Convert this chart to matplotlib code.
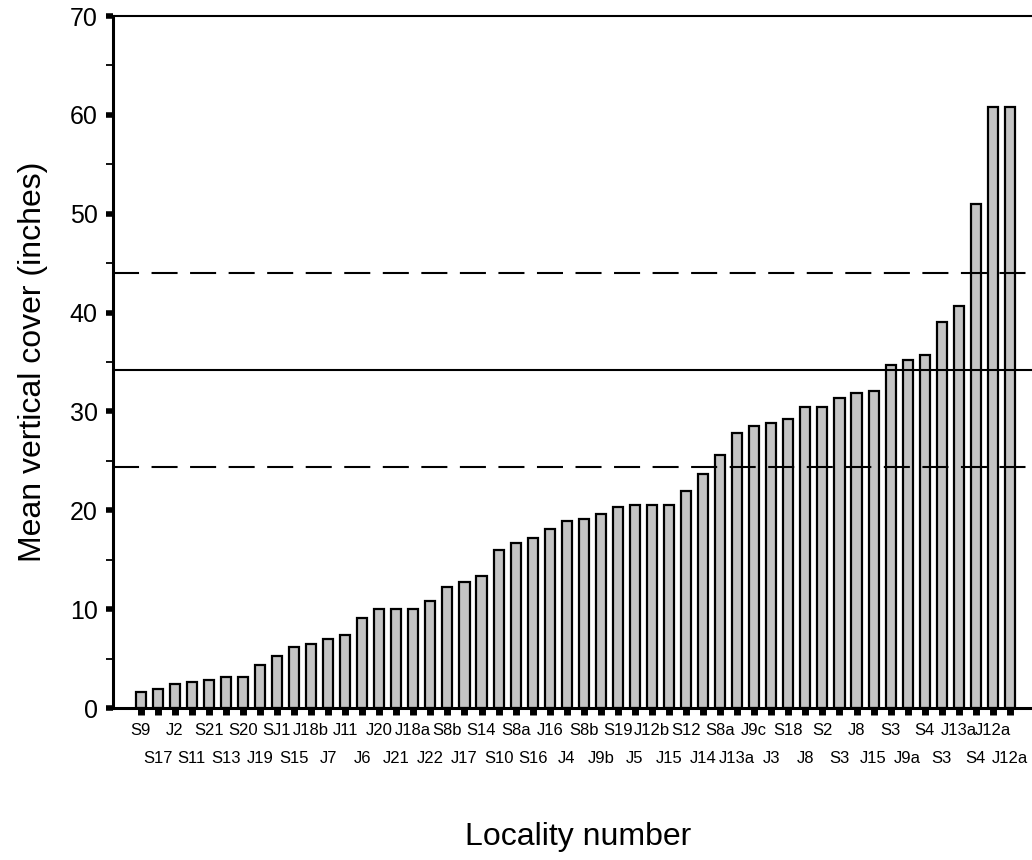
import numpy as np
import matplotlib
matplotlib.use("Agg")
import matplotlib.pyplot as plt
from matplotlib.ticker import MultipleLocator

plt.rcParams['font.family'] = ['Liberation Sans', 'DejaVu Sans']

# localities, sorted by cover
localities = ["S9", "S17", "J2", "S11", "S21", "S13", "S20", "J19", "SJ1", "S15",
              "J18b", "J7", "J11", "J6", "J20", "J21", "J18a", "J22", "S8b", "J17",
              "S14", "S10", "S8a", "S16", "J16", "J4", "S8b", "J9b", "S19", "J5",
              "J12b", "J15", "S12", "J14", "S8a", "J13a", "J9c", "J3", "S18", "J8",
              "S2", "S3", "J8", "J15", "S3", "J9a", "S4", "S3", "J13a", "S4",
              "J12a", "J12a"]
cover = [1.65, 1.9, 2.4, 2.6, 2.85, 3.1, 3.1, 4.3, 5.3, 6.2,
         6.5, 6.95, 7.4, 9.1, 10.0, 10.0, 10.0, 10.8, 12.2, 12.7,
         13.4, 16.0, 16.7, 17.2, 18.1, 18.9, 19.1, 19.6, 20.3, 20.5,
         20.5, 20.5, 22.0, 23.7, 25.6, 27.8, 28.5, 28.8, 29.2, 30.4,
         30.4, 31.4, 31.9, 32.1, 34.7, 35.2, 35.7, 39.0, 40.7, 51.0,
         60.8, 60.8]
mean_cover = 34.2
lower_ci = 24.4
upper_ci = 44.0

fig = plt.figure(figsize=(10.32, 8.6), dpi=100)
ax = fig.add_axes([113/1032, 152/860, 1 - 113/1032 + 0.01, 692/860])

ind = np.arange(len(cover))
ax.bar(ind, cover, width=0.59, color='#c4c4c4', edgecolor='black', linewidth=1.6, zorder=2)

ax.axhline(mean_cover, color='black', lw=1.5, zorder=3)
ax.axhline(lower_ci, color='black', lw=1.5, dashes=(12.5, 6), zorder=3)
ax.axhline(upper_ci, color='black', lw=1.5, dashes=(12.5, 6), zorder=3)

ax.set_xlim(-1.62, len(cover) - 1 + 1.9)
ax.set_ylim(0, 70)

ax.yaxis.set_major_locator(MultipleLocator(10))
ax.yaxis.set_minor_locator(MultipleLocator(5))
ax.tick_params(axis='y', which='major', direction='out', length=5, width=4,
               labelsize=18, pad=6)
ax.tick_params(axis='y', which='minor', direction='out', length=5, width=1.3)

# alternating label rows: even bars on major ticks, odd bars on minor ticks
ax.set_xticks(ind[::2])
ax.set_xticklabels(localities[::2])
ax.set_xticks(ind[1::2], minor=True)
ax.set_xticklabels(localities[1::2], minor=True)
ax.tick_params(axis='x', which='both', direction='out', length=5, width=5, labelsize=12)
ax.tick_params(axis='x', which='major', pad=6)
ax.tick_params(axis='x', which='minor', pad=26)

ax.spines['right'].set_visible(False)
ax.spines['left'].set_linewidth(2.2)
ax.spines['bottom'].set_linewidth(2.2)
ax.spines['top'].set_linewidth(1.5)

ax.set_ylabel("Mean vertical cover (inches)", fontsize=23, labelpad=16)
ax.set_xlabel("Locality number", fontsize=23, labelpad=40)

plt.savefig("out.png", dpi=100)
